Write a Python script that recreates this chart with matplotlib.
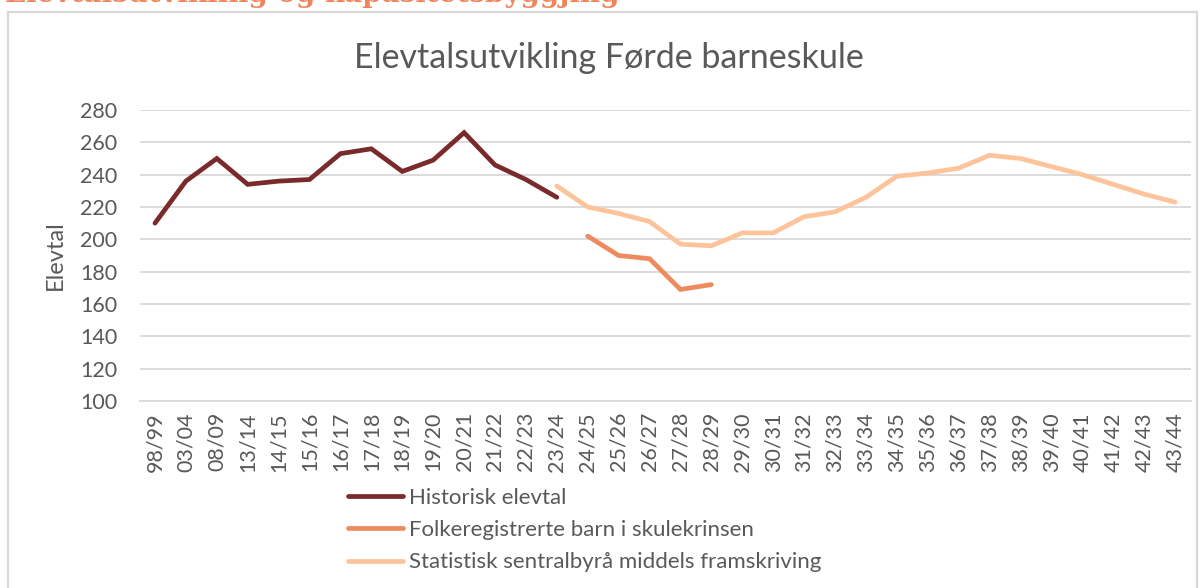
import matplotlib
matplotlib.use("Agg")
import matplotlib.pyplot as plt
import numpy as np
from matplotlib.patches import Rectangle

# --- data ---
categories = [
    "98/99", "03/04", "08/09", "13/14", "14/15", "15/16", "16/17", "17/18",
    "18/19", "19/20", "20/21", "21/22", "22/23", "23/24", "24/25", "25/26",
    "26/27", "27/28", "28/29", "29/30", "30/31", "31/32", "32/33", "33/34",
    "34/35", "35/36", "36/37", "37/38", "38/39", "39/40", "40/41", "41/42",
    "42/43", "43/44",
]
historisk = [210, 236, 250, 234, 236, 237, 253, 256, 242, 249, 266, 246, 237, 226]
historisk_start = "98/99"
folkereg = [202, 190, 188, 169, 172]
folkereg_start = "24/25"
ssb = [233, 220, 216, 211, 197, 196, 204, 204, 214, 217, 226, 239, 241, 244,
       252, 250, 245, 240, 234, 228, 223]
ssb_start = "23/24"

series_labels = [
    "Historisk elevtal",
    "Folkeregistrerte barn i skulekrinsen",
    "Statistisk sentralbyrå middels framskriving",
]
series_colors = ["#7A2A2A", "#EF8A5E", "#FDC39B"]
yticks = list(range(100, 281, 20))

GRAY = "#595959"
GRID = "#D9D9D9"
FONT = "Lato"

fig = plt.figure(figsize=(12, 5.88), dpi=100)

# outer chart frame (partly cut off by the image edge)
fig.patches.append(Rectangle((8 / 1200, -0.05), 1189 / 1200, 1.05 - 12 / 588,
                             transform=fig.transFigure, fill=False,
                             edgecolor=GRID, linewidth=1.6))

# heading of the surrounding document, cut off by the top edge like in the source
fig.text(0.004, 1 - 1.5 / 588, "Elevtalsutvikling og kapasitetsbyggjing",
         family="DejaVu Serif", fontweight="bold", fontsize=20,
         color="#F0845A", va="baseline", ha="left")

ax = fig.add_axes([139.5 / 1200, 1 - 401 / 588, 1051 / 1200, 291 / 588])

x = np.arange(len(categories))
for vals, start, col, lab in zip([historisk, folkereg, ssb],
                                 [historisk_start, folkereg_start, ssb_start],
                                 series_colors, series_labels):
    i0 = categories.index(start)
    ax.plot(x[i0:i0 + len(vals)], vals, color=col, linewidth=3.4,
            solid_capstyle="round", solid_joinstyle="miter", label=lab, zorder=3)

ax.set_xlim(-0.5, len(categories) - 0.5)
ax.set_ylim(100, 280)
ax.set_yticks(yticks)
ax.set_xticks(x)
ax.set_xticklabels(categories, rotation=90, fontsize=15.5, color=GRAY, family=FONT)
ax.set_yticklabels([str(v) for v in yticks], fontsize=15.5, color=GRAY, family=FONT)
ax.tick_params(axis="both", length=0)
ax.tick_params(axis="y", pad=16)
ax.tick_params(axis="x", pad=8)
ax.grid(axis="y", color=GRID, linewidth=1.3, zorder=0)
for s in ["top", "right", "left"]:
    ax.spines[s].set_visible(False)
ax.spines["bottom"].set_color(GRID)
ax.spines["bottom"].set_linewidth(1.3)

ax.set_ylabel("Elevtal", fontsize=17, color=GRAY, family=FONT)
ax.yaxis.set_label_coords(-0.070, 0.5, transform=ax.transAxes)

fig.text(0.507, 1 - 58 / 588, "Elevtalsutvikling Førde barneskule",
         fontsize=24.5, color=GRAY, family=FONT, ha="center", va="center")

leg = ax.legend(loc="upper left", bbox_to_anchor=(339 / 1200, 1 - 479 / 588),
                bbox_transform=fig.transFigure, frameon=False,
                prop={"family": FONT, "size": 16}, handlelength=2.5,
                handletextpad=0.23, labelspacing=0.55, borderaxespad=0)
for t in leg.get_texts():
    t.set_color(GRAY)

fig.savefig("out.png", dpi=100)
